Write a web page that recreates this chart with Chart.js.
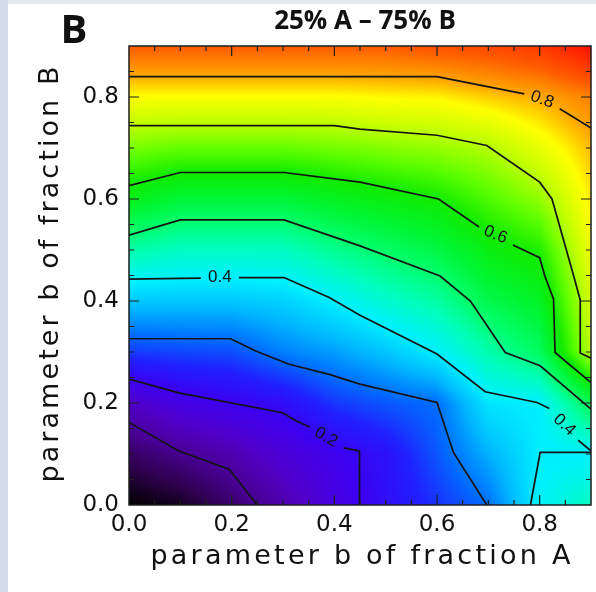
<!DOCTYPE html>
<html lang="en">
<head>
  <meta charset="utf-8">
  <title>25% A – 75% B</title>
  <script src="https://cdn.jsdelivr.net/npm/chart.js"></script>
  <style>
    html, body { margin: 0; padding: 0; background: #fff; }
    #wrap { position: relative; width: 596px; height: 592px; }
  </style>
</head>
<body>
<div id="wrap"><canvas id="contourChart" width="596" height="592"></canvas></div>
<script>
// grid nodes of the field (parameter b of fraction A / fraction B)
const gridX = [0.0, 0.1, 0.2, 0.3, 0.4, 0.5, 0.6, 0.7, 0.8, 0.9];
const gridY = [0.0, 0.1, 0.2, 0.3, 0.4, 0.5, 0.6, 0.7, 0.8, 0.9];
const fieldRows = [
  [0.000, 0.020, 0.070, 0.120, 0.175, 0.220, 0.261, 0.300, 0.405, 0.450],
  [0.062, 0.095, 0.123, 0.164, 0.195, 0.227, 0.285, 0.345, 0.398, 0.400],
  [0.145, 0.182, 0.200, 0.219, 0.264, 0.285, 0.300, 0.391, 0.400, 0.523],
  [0.267, 0.275, 0.279, 0.312, 0.332, 0.361, 0.400, 0.462, 0.513, 0.703],
  [0.363, 0.362, 0.362, 0.372, 0.400, 0.437, 0.468, 0.528, 0.560, 0.725],
  [0.466, 0.448, 0.448, 0.448, 0.480, 0.508, 0.534, 0.581, 0.610, 0.747],
  [0.573, 0.544, 0.544, 0.544, 0.566, 0.583, 0.600, 0.638, 0.678, 0.769],
  [0.663, 0.652, 0.652, 0.652, 0.660, 0.670, 0.680, 0.697, 0.740, 0.791],
  [0.758, 0.758, 0.758, 0.758, 0.758, 0.763, 0.765, 0.783, 0.800, 0.830],
  [0.860, 0.860, 0.860, 0.860, 0.860, 0.860, 0.870, 0.880, 0.900, 0.950]
];

// contour lines, [x, y]; a null y breaks the line where a label sits
const level01 = [[0, 0.162], [0.097, 0.106], [0.195, 0.070], [0.25, 0.0]];
const level02 = [[0, 0.247], [0.097, 0.220], [0.299, 0.181], [0.325, 0.165], [0.352, 0.153], [0.38, null],
                 [0.418, 0.112], [0.449, 0.106], [0.449, 0.0]];
const level03 = [[0, 0.326], [0.198, 0.326], [0.247, 0.302], [0.312, 0.276], [0.39, 0.256], [0.45, 0.237],
                 [0.60, 0.201], [0.632, 0.103], [0.697, 0.0]];
const level04 = [[0, 0.443], [0.14, 0.445], [0.18, null], [0.214, 0.446], [0.302, 0.446], [0.39, 0.407],
                 [0.45, 0.372], [0.60, 0.296], [0.694, 0.222], [0.795, 0.201], [0.819, 0.189], [0.85, null],
                 [0.875, 0.127], [0.9, 0.106]];
const level04b = [[0.782, 0.0], [0.801, 0.103], [0.9, 0.103]];
const level05 = [[0, 0.529], [0.1, 0.559], [0.302, 0.559], [0.45, 0.508], [0.606, 0.449], [0.665, 0.40],
                 [0.733, 0.299], [0.801, 0.273], [0.9, 0.188]];
const level06 = [[0, 0.626], [0.1, 0.652], [0.302, 0.652], [0.45, 0.633], [0.603, 0.60], [0.682, 0.545],
                 [0.71, null], [0.748, 0.510], [0.80, 0.485], [0.81, 0.449], [0.827, 0.404], [0.83, 0.299],
                 [0.9, 0.24]];
const level07 = [[0, 0.744], [0.40, 0.744], [0.45, 0.737], [0.6, 0.725], [0.697, 0.705], [0.80, 0.633],
                 [0.824, 0.60], [0.866, 0.45], [0.879, 0.402], [0.879, 0.298], [0.9, 0.288]];
const level08 = [[0, 0.84], [0.6, 0.84], [0.770, 0.806], [0.80, null], [0.839, 0.777], [0.9, 0.739]];

// contour labels: text, x, y, tilt in degrees
const contourLabels = [
  ['0.2', 0.384, 0.133, 30],
  ['0.4', 0.177, 0.446, 0],
  ['0.4', 0.848, 0.157, 43],
  ['0.6', 0.714, 0.530, 22],
  ['0.8', 0.805, 0.795, 20]
];

const tickValues = [0.0, 0.2, 0.4, 0.6, 0.8];
const xTitle = 'parameter b of fraction A';
const yTitle = 'parameter b of fraction B';

// rainbow colour table: value, r, g, b
const colourStops = [
  [0.00, 0, 0, 0],
  [0.05, 48, 0, 80],
  [0.10, 72, 0, 150],
  [0.15, 80, 0, 205],
  [0.20, 60, 0, 240],
  [0.25, 32, 32, 255],
  [0.30, 0, 110, 255],
  [0.35, 0, 185, 255],
  [0.40, 0, 240, 255],
  [0.45, 0, 255, 192],
  [0.50, 0, 255, 112],
  [0.55, 0, 245, 48],
  [0.60, 16, 235, 0],
  [0.65, 96, 255, 0],
  [0.70, 184, 255, 0],
  [0.76, 255, 255, 0],
  [0.80, 255, 168, 0],
  [0.86, 255, 90, 0],
  [0.95, 255, 16, 0],
  [1.00, 255, 0, 0]
];

function findCell(arr, v) {
  let i = 0;
  while (i < arr.length - 2 && v > arr[i + 1]) i++;
  return i;
}

function fieldAt(vx, vy) {
  const i = findCell(gridX, vx), j = findCell(gridY, vy);
  const tx = Math.min(1, Math.max(0, (vx - gridX[i]) / (gridX[i + 1] - gridX[i])));
  const ty = Math.min(1, Math.max(0, (vy - gridY[j]) / (gridY[j + 1] - gridY[j])));
  const z00 = fieldRows[j][i], z10 = fieldRows[j][i + 1];
  const z01 = fieldRows[j + 1][i], z11 = fieldRows[j + 1][i + 1];
  return (z00 * (1 - tx) + z10 * tx) * (1 - ty) + (z01 * (1 - tx) + z11 * tx) * ty;
}

function colourFor(z) {
  if (z <= colourStops[0][0]) return colourStops[0].slice(1);
  for (let k = 1; k < colourStops.length; k++) {
    const b = colourStops[k];
    if (z <= b[0]) {
      const a = colourStops[k - 1];
      const t = (z - a[0]) / (b[0] - a[0]);
      return [a[1] + (b[1] - a[1]) * t, a[2] + (b[2] - a[2]) * t, a[3] + (b[3] - a[3]) * t];
    }
  }
  return colourStops[colourStops.length - 1].slice(1);
}

const toPoints = arr => arr.map(p => ({x: p[0], y: p[1]}));

function contourSet(arr) {
  return {
    data: toPoints(arr),
    showLine: true,
    borderColor: '#141414',
    borderWidth: 1.7,
    pointRadius: 0,
    tension: 0,
    spanGaps: false
  };
}

// spread a title out to the width it has in the original figure
function spacedText(ctx, text, x, y, width) {
  ctx.letterSpacing = '0px';
  const natural = ctx.measureText(text).width;
  ctx.letterSpacing = ((width - natural) / (text.length - 1)).toFixed(2) + 'px';
  const w = ctx.measureText(text).width;
  ctx.textAlign = 'left';
  ctx.fillText(text, x - w / 2, y);
  ctx.letterSpacing = '0px';
}

// background strips of the original slide
const backdrop = {
  id: 'backdrop',
  beforeDraw(chart) {
    const ctx = chart.ctx;
    ctx.save();
    ctx.fillStyle = '#ffffff';
    ctx.fillRect(0, 0, chart.width, chart.height);
    ctx.fillStyle = '#e4e9ef';
    ctx.fillRect(0, 0, chart.width, 4);
    ctx.fillStyle = '#d3dde8';
    ctx.fillRect(0, 0, 8, chart.height);
    ctx.restore();
  }
};

// smooth colour field, sampled through the scales
const colourField = {
  id: 'colourField',
  beforeDatasetsDraw(chart) {
    const {ctx, chartArea: a, scales: {x, y}} = chart;
    const left = Math.round(a.left), top = Math.round(a.top);
    const w = Math.round(a.right) - left, h = Math.round(a.bottom) - top;
    const img = ctx.createImageData(w, h);
    for (let py = 0; py < h; py++) {
      const vy = y.getValueForPixel(top + py + 0.5);
      for (let px = 0; px < w; px++) {
        const vx = x.getValueForPixel(left + px + 0.5);
        const c = colourFor(fieldAt(vx, vy));
        const k = (py * w + px) * 4;
        img.data[k] = c[0];
        img.data[k + 1] = c[1];
        img.data[k + 2] = c[2];
        img.data[k + 3] = 255;
      }
    }
    ctx.putImageData(img, left, top);
  }
};

// frame, inward ticks, contour labels, titles
const decorations = {
  id: 'decorations',
  afterDatasetsDraw(chart) {
    const {ctx, chartArea: a, scales: {x, y}} = chart;
    ctx.save();

    ctx.font = '17px "Liberation Sans", Arial, sans-serif';
    ctx.fillStyle = '#141414';
    ctx.textAlign = 'center';
    ctx.textBaseline = 'middle';
    contourLabels.forEach(([txt, lx, ly, ang]) => {
      ctx.save();
      ctx.translate(x.getPixelForValue(lx), y.getPixelForValue(ly));
      ctx.rotate(ang * Math.PI / 180);
      ctx.fillText(txt, 0, 0);
      ctx.restore();
    });

    ctx.strokeStyle = '#1e1e1e';
    ctx.lineWidth = 1.2;
    ctx.beginPath();
    for (let n = 1; n < 18; n++) {
      const v = n * 0.05;
      const len = n % 4 === 0 ? 10 : 5;
      const px = x.getPixelForValue(v), py = y.getPixelForValue(v);
      ctx.moveTo(px, a.bottom); ctx.lineTo(px, a.bottom - len);
      ctx.moveTo(px, a.top); ctx.lineTo(px, a.top + len);
      ctx.moveTo(a.left, py); ctx.lineTo(a.left + len, py);
      ctx.moveTo(a.right, py); ctx.lineTo(a.right - len, py);
    }
    ctx.stroke();
    ctx.lineWidth = 1.5;
    ctx.strokeRect(a.left, a.top, a.right - a.left, a.bottom - a.top);

    ctx.fillStyle = '#111';
    ctx.textBaseline = 'middle';
    ctx.textAlign = 'center';
    ctx.font = 'bold 26px "Open Sans", "DejaVu Sans", sans-serif';
    ctx.fillText('25% A – 75% B', (a.left + a.right) / 2 + 5, 22);
    ctx.font = 'bold 40px "Open Sans", "DejaVu Sans", sans-serif';
    ctx.fillText('B', 74, 32);

    // axis titles
    ctx.textBaseline = 'alphabetic';
    ctx.font = '27px "DejaVu Sans", sans-serif';
    spacedText(ctx, xTitle, 362, 564, 420);
    ctx.save();
    ctx.translate(58, 273);
    ctx.rotate(-Math.PI / 2);
    spacedText(ctx, yTitle, 0, 0, 416);
    ctx.restore();
    ctx.restore();
  }
};

const axisFont = {family: '"DejaVu Sans", sans-serif', size: 23};

new Chart(document.getElementById('contourChart'), {
  type: 'scatter',
  data: {
    datasets: [level01, level02, level03, level04, level04b, level05, level06, level07, level08].map(contourSet)
  },
  options: {
    responsive: false,
    animation: false,
    events: [],
    layout: {padding: {left: 0, top: 46, right: 5, bottom: 0}},
    plugins: {legend: {display: false}, tooltip: {enabled: false}},
    scales: {
      x: {
        type: 'linear',
        min: 0, max: 0.9,
        grid: {display: false, drawTicks: false},
        border: {display: false},
        afterBuildTicks: s => { s.ticks = tickValues.map(v => ({value: v})); },
        afterFit: s => { s.height = 87; },
        ticks: {color: '#111', font: axisFont, padding: 6, maxRotation: 0, callback: v => v.toFixed(1)}
      },
      y: {
        type: 'linear',
        min: 0, max: 0.9,
        grid: {display: false, drawTicks: false},
        border: {display: false},
        afterBuildTicks: s => { s.ticks = tickValues.map(v => ({value: v})); },
        afterFit: s => { s.width = 129; },
        ticks: {color: '#111', font: axisFont, padding: 10, callback: v => v.toFixed(1)}
      }
    }
  },
  plugins: [backdrop, colourField, decorations]
});
</script>
</body>
</html>
